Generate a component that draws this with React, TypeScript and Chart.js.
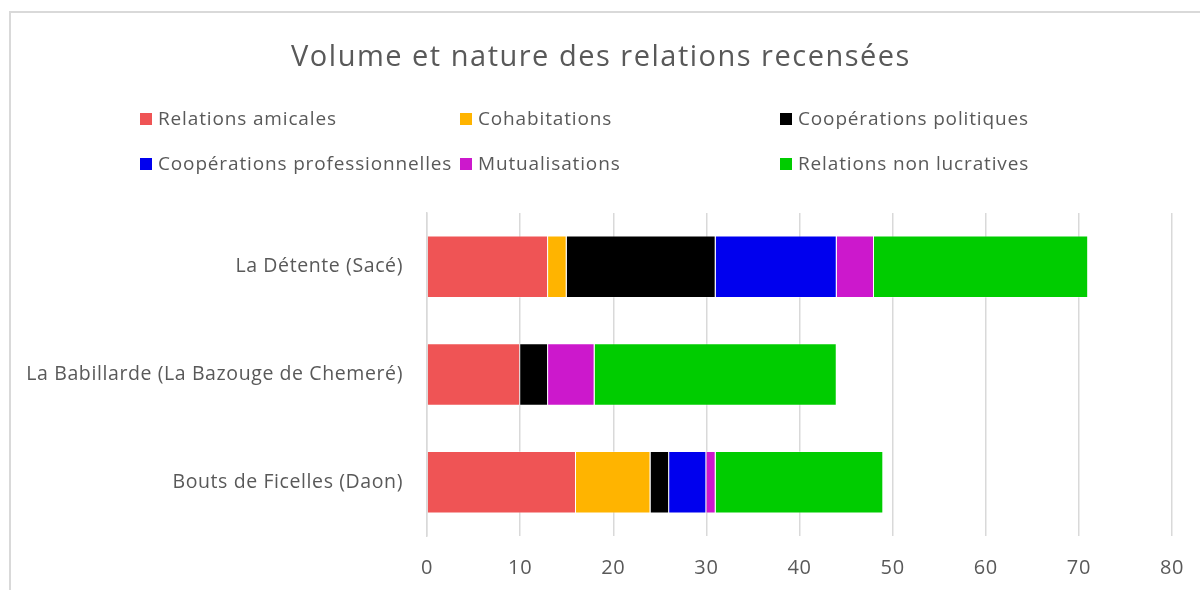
import React, { useEffect, useRef } from "react";
import { Chart, registerables } from "chart.js";

Chart.register(...registerables);

const TITLE = "Volume et nature des relations recensées";
const CATEGORIES = [
  "La Détente (Sacé)",
  "La Babillarde (La Bazouge de Chemeré)",
  "Bouts de Ficelles (Daon)",
];
const SERIES_NAMES = [
  "Relations amicales",
  "Cohabitations",
  "Coopérations politiques",
  "Coopérations professionnelles",
  "Mutualisations",
  "Relations non lucratives",
];
const SERIES_COLORS = ["#EF5455", "#FFB400", "#000000", "#0000EE", "#CC18CC", "#00CC00"];
const RELATIONS_AMICALES = [13, 10, 16];
const COHABITATIONS = [2, 0, 8];
const COOP_POLITIQUES = [16, 3, 2];
const COOP_PROFESSIONNELLES = [13, 0, 4];
const MUTUALISATIONS = [4, 5, 1];
const NON_LUCRATIVES = [23, 26, 18];
const X_MIN = 0;
const X_MAX = 80;
const X_STEP = 10;

const SERIES_VALUES = [
  RELATIONS_AMICALES,
  COHABITATIONS,
  COOP_POLITIQUES,
  COOP_PROFESSIONNELLES,
  MUTUALISATIONS,
  NON_LUCRATIVES,
];

const FONT = "'Open Sans', Lato, sans-serif";
const TEXT_COLOR = "#595959";

const decorPlugin = {
  id: "decor",
  beforeDraw(chart: any) {
    const ctx = chart.ctx;
    ctx.save();
    ctx.fillStyle = "#ffffff";
    ctx.fillRect(0, 0, chart.width, chart.height);
    ctx.strokeStyle = "#D9D9D9";
    ctx.lineWidth = 2;
    ctx.strokeRect(10, 12, chart.width + 20, chart.height + 20);
    ctx.restore();
    ctx.letterSpacing = "0.6px";
  },
  afterDraw(chart: any) {
    const ctx = chart.ctx;
    ctx.save();
    ctx.fillStyle = TEXT_COLOR;
    ctx.textAlign = "center";
    ctx.textBaseline = "middle";
    ctx.letterSpacing = "1.5px";
    ctx.font = `29px ${FONT}`;
    ctx.fillText(TITLE, 601, 58);
    ctx.font = `19px ${FONT}`;
    ctx.letterSpacing = "0.85px";
    ctx.textAlign = "left";
    chart.data.datasets.forEach((ds: any, i: number) => {
      const col = i % 3;
      const row = Math.floor(i / 3);
      const x = 140 + col * 320;
      const y = 119 + row * 45;
      ctx.fillStyle = ds.backgroundColor;
      ctx.fillRect(x, y - 6, 12, 12);
      ctx.fillStyle = TEXT_COLOR;
      ctx.fillText(ds.label, x + 18, y + 1);
    });
    ctx.restore();
  },
};

export default function App() {
  const ref = useRef<HTMLCanvasElement>(null);
  useEffect(() => {
    if (!ref.current) return;
    const chart = new Chart(ref.current, {
      type: "bar",
      data: {
        labels: CATEGORIES,
        datasets: SERIES_NAMES.map((name, i) => ({
          label: name,
          data: SERIES_VALUES[i],
          backgroundColor: SERIES_COLORS[i],
          borderColor: "rgba(255,255,255,0.35)",
          borderWidth: 1,
          barPercentage: 0.58,
          categoryPercentage: 1,
        })),
      },
      options: {
        indexAxis: "y",
        responsive: false,
        animation: false,
        layout: { padding: { top: 213, left: 10, right: 28, bottom: 0 } },
        plugins: {
          legend: { display: false },
          title: { display: false },
          tooltip: { enabled: false },
        },
        scales: {
          x: {
            stacked: true,
            min: X_MIN,
            max: X_MAX,
            ticks: {
              stepSize: X_STEP,
              color: TEXT_COLOR,
              font: { family: FONT, size: 20 },
              padding: 20,
            },
            grid: { color: "#D9D9D9", lineWidth: 1.5, drawTicks: false },
            border: { display: false },
            afterFit(scale: any) {
              scale.height = 54;
              scale.paddingLeft = 0;
              scale.paddingRight = 0;
            },
          },
          y: {
            stacked: true,
            ticks: {
              color: TEXT_COLOR,
              font: { family: FONT, size: 19.5 },
              padding: 24,
            },
            grid: { display: false, drawTicks: false },
            border: { display: true, color: "#D9D9D9", width: 1.5 },
            afterFit(scale: any) {
              scale.width = 417;
            },
          },
        },
      },
      plugins: [decorPlugin],
    });
    return () => chart.destroy();
  }, []);
  return (
    <div style={{ position: "absolute", left: 0, top: 0, width: 1200, height: 590 }}>
      <canvas ref={ref} width={1200} height={590} />
    </div>
  );
}
